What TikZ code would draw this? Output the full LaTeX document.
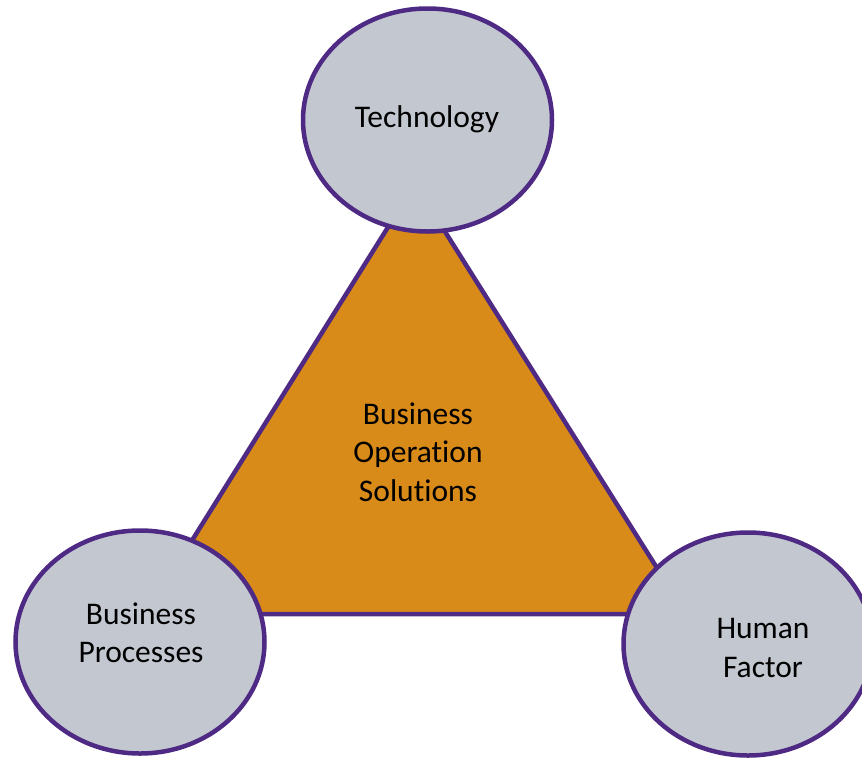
\documentclass[tikz,border=0pt]{standalone}
\usepackage{fontspec}
\setmainfont{Carlito}[Ligatures={NoCommon}]
\usetikzlibrary{shapes.geometric}
\definecolor{ringpurple}{HTML}{4E2A84}
\definecolor{circfill}{HTML}{C3C7D0}
\definecolor{trifill}{HTML}{D98B19}
\tikzset{
  bubble/.style={ellipse, draw=ringpurple, fill=circfill, line width=4.5pt,
    minimum width=249pt, minimum height=223pt, inner sep=0pt},
  lbl/.style={align=center, font=\fontsize{31.5}{38.5}\selectfont, text=black, inner sep=0pt},
  tri/.style={draw=ringpurple, fill=trifill, line width=4.5pt, line join=round}
}
\begin{document}
\begin{tikzpicture}[x=1pt,y=-1pt]
\useasboundingbox (0,0) rectangle (862,761);
\begin{scope}
\clip (0,0) rectangle (862,761);
\coordinate (A) at (415,184);
\coordinate (B) at (146,614);
\coordinate (C) at (686,614);
\draw[tri] (A) -- (B) -- (C) -- cycle;
\node[lbl] (bos) at (418,452) {Business\\Operation\\Solutions};
\node[bubble] (tech) at (427.5,120) {};
\node[bubble] (bp) at (140,642) {};
\node[bubble] (hf) at (748,644) {};
\node[lbl] (techtext) at (427,119) {Technology};
\node[lbl] (bptext) at (141,633) {Business\\Processes};
\node[lbl] (hftext) at (763,648) {Human\\Factor};
\end{scope}
\end{tikzpicture}
\end{document}
